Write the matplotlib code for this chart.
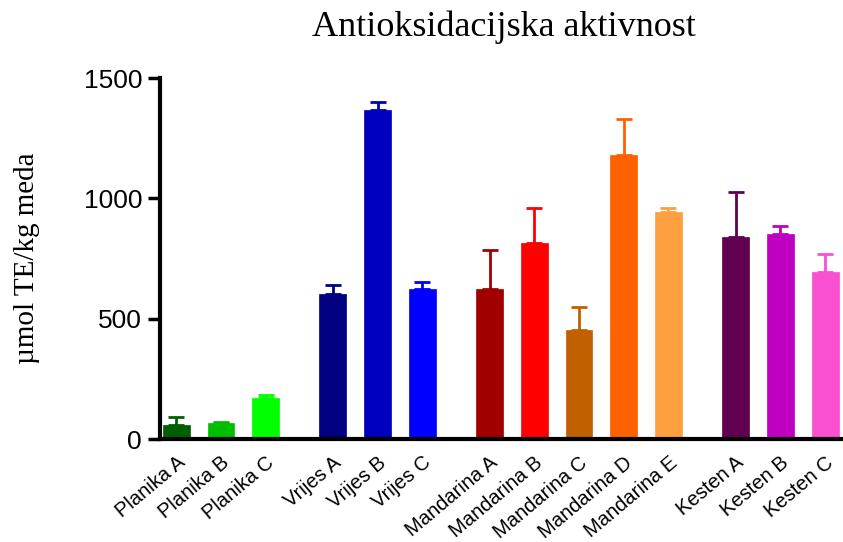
import matplotlib
matplotlib.use("Agg")
import matplotlib.pyplot as plt
import numpy as np

categories = ["Planika A", "Planika B", "Planika C",
              "Vrijes A", "Vrijes B", "Vrijes C",
              "Mandarina A", "Mandarina B", "Mandarina C", "Mandarina D", "Mandarina E",
              "Kesten A", "Kesten B", "Kesten C"]
groups = [0, 0, 0, 1, 1, 1, 2, 2, 2, 2, 2, 3, 3, 3]
values = [59, 67, 170, 601, 1366, 624, 624, 815, 451, 1181, 944, 841, 852, 694]
errors = [31, 4, 11, 40, 34, 27, 161, 147, 98, 148, 17, 184, 32, 75]
colors = ["#005F00", "#00BF00", "#00FF00",
          "#000080", "#0000C0", "#0000FF",
          "#A00000", "#FF0000", "#C06000", "#FF6000", "#FFA040",
          "#600050", "#C000C0", "#F850D0"]

x = np.arange(len(categories)) + 0.5 * np.array(groups)

fig = plt.figure(figsize=(8.43, 5.42), dpi=100)
ax = fig.add_axes([0.19, 0.19, 0.81, 0.666])

for xi, v, e, c in zip(x, values, errors, colors):
    ax.bar(xi, v, width=0.6, color=c, edgecolor=c, linewidth=0.5, zorder=2)
    ax.errorbar(xi, v, yerr=[[0], [e]], fmt="none", ecolor=c, elinewidth=2,
                capsize=6, capthick=2, zorder=3)

ax.set_xlim(-0.36, 14.9)
ax.set_ylim(0, 1500)
ax.set_yticks([0, 500, 1000, 1500])
ax.set_yticklabels(["0", "500", "1000", "1500"], fontsize=19, family="Liberation Sans")
ax.set_xticks(x)
ax.set_xticklabels(categories, rotation=40, ha="right", rotation_mode="anchor",
                   fontsize=14.5, family="Liberation Sans")
ax.tick_params(axis="x", length=0, pad=10)
ax.tick_params(axis="y", length=9, width=2.5, direction="out", pad=4)

for s in ["top", "right"]:
    ax.spines[s].set_visible(False)
for s in ["left", "bottom"]:
    ax.spines[s].set_linewidth(3)

ax.set_ylabel("µmol TE/kg meda", fontsize=21, family="Liberation Serif")
ax.yaxis.label.set_va("center")
ax.yaxis.set_label_coords((27 - 160) / 683, 0.5)

fig.text(504 / 843, 1 - 27 / 542, "Antioksidacijska aktivnost", fontsize=26,
         family="Liberation Serif", ha="center", va="center")

fig.savefig("out.png", dpi=100)
